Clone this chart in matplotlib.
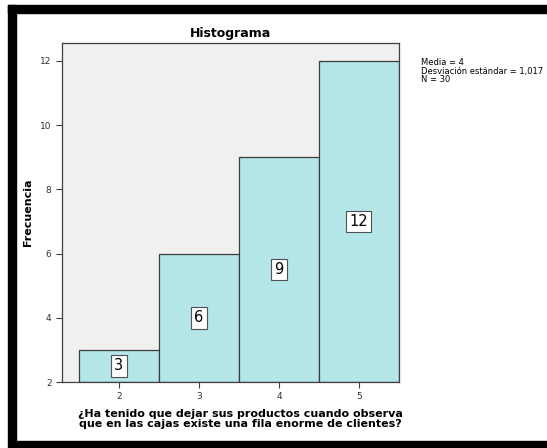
import matplotlib.pyplot as plt
from matplotlib.patches import Rectangle

# data
categorias = [2, 3, 4, 5]
frecuencias = [3, 6, 9, 12]
etiquetas = ['3', '6', '9', '12']
estadisticas = 'Media = 4\nDesviación estándar = 1,017\nN = 30'

fig = plt.figure(figsize=(5.47, 4.48), dpi=100)
fig.patch.set_facecolor('white')

# black frame (left, top, bottom)
W, H = 547, 448
for (x0, y0, w, h) in [(8, 5, 8, 436), (8, 5, 539, 8), (8, 441, 539, 7)]:
    fig.patches.append(Rectangle((x0 / W, 1 - (y0 + h) / H), w / W, h / H,
                                 transform=fig.transFigure, color='black', zorder=0))

ax = fig.add_axes([62 / W, 1 - 382 / H, 337 / W, 339 / H])
ax.set_facecolor('#f0f0f0')
base = 2
ax.bar(categorias, [f - base for f in frecuencias], bottom=base, width=1.0,
       color='#b4e6e8', edgecolor='#3c3c3c', linewidth=0.9)

for c, f, t in zip(categorias, frecuencias, etiquetas):
    ax.text(c, (base + f) / 2, t, ha='center', va='center', fontsize=10.5,
            bbox=dict(boxstyle='square,pad=0.22', fc='white', ec='#505050', lw=0.8))

ax.set_xlim(1.29, 5.5)
ax.set_ylim(2, 12.56)
ax.set_xticks(categorias)
ax.set_yticks([2, 4, 6, 8, 10, 12])
ax.tick_params(direction='out', length=4, width=0.8, labelsize=6.5, color='#404040',
               labelcolor='#303030')
for s in ax.spines.values():
    s.set_color('#404040')
    s.set_linewidth(0.9)

ax.set_title('Histograma', fontsize=9, fontweight='bold', pad=4)
ax.set_ylabel('Frecuencia', fontsize=8, fontweight='bold')
ax.yaxis.set_label_coords(-0.086, 0.5)
ax.set_xlabel('¿Ha tenido que dejar sus productos cuando observa\nque en las cajas existe una fila enorme de clientes?',
              fontsize=8, fontweight='bold', linespacing=1.0, va='center')
ax.xaxis.set_label_coords(0.53, -0.11)

fig.text(421 / W, 1 - 58 / H, estadisticas, fontsize=6, va='top', ha='left',
         linespacing=0.95)

fig.savefig('out.png', dpi=100)
